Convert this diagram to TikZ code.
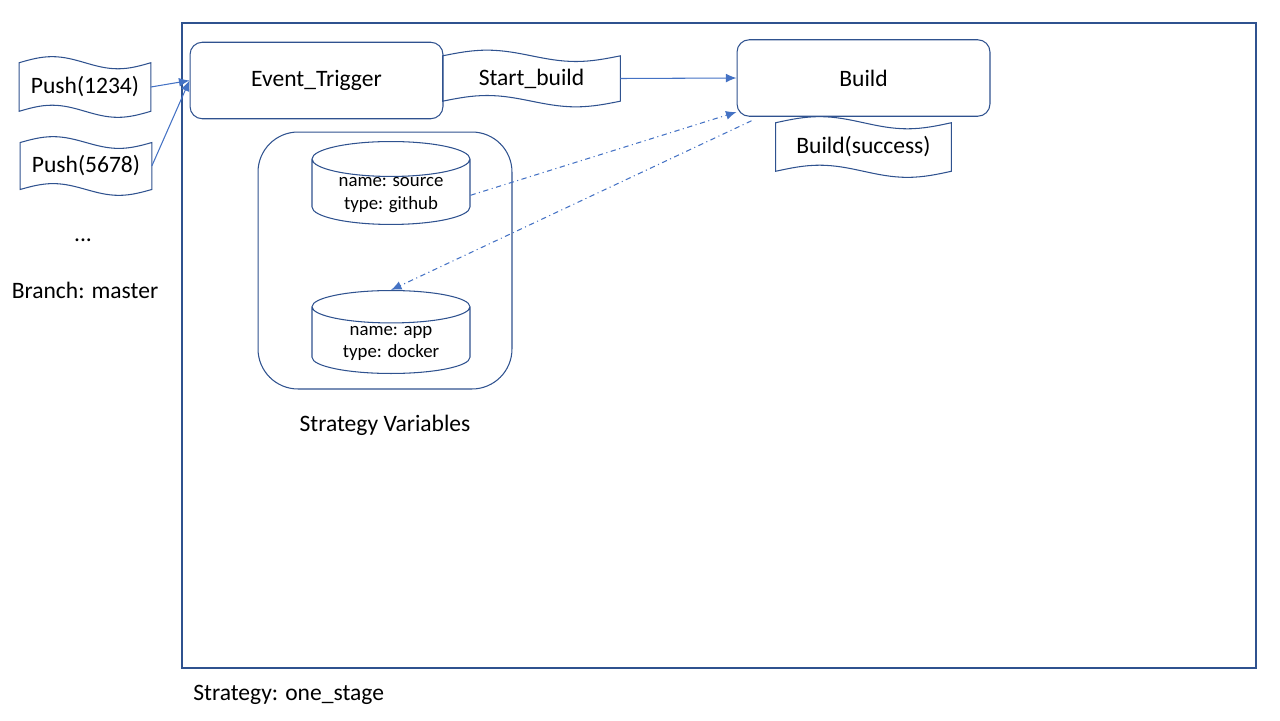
\documentclass[tikz,border=0pt]{standalone}
\usepackage{fontspec}
\setmainfont{Carlito}
\usetikzlibrary{calc, shapes.geometric, arrows.meta}

\definecolor{edgeblue}{RGB}{47,82,143}
\definecolor{linkblue}{RGB}{68,114,196}

% wavy tape outline round a node
\newcommand{\tapeline}[1]{%
  \draw[edgeblue, line width=0.6pt] let \p1=(#1.north west), \p2=(#1.south east),
    \n1={0.25*(\x2-\x1)}, \n2={0.1*(\y1-\y2)} in
    (\x1,{\y1-\n2}) sin ({\x1+\n1},\y1) cos ({\x1+2*\n1},{\y1-\n2})
    sin ({\x1+3*\n1},{\y1-2*\n2}) cos (\x2,{\y1-\n2})
    -- (\x2,{\y2+\n2}) sin ({\x2-\n1},\y2) cos ({\x2-2*\n1},{\y2+\n2})
    sin ({\x1+\n1},{\y2+2*\n2}) cos (\x1,{\y2+\n2}) -- cycle;}

\begin{document}
\begin{tikzpicture}[x=0.02cm, y=-0.02cm, font=\fontsize{13.4}{16}\selectfont]
\tikzset{>={Latex[length=6pt,width=5pt]}}
\tikzset{
  stepbox/.style={draw=edgeblue, line width=0.6pt, rounded corners=7pt,
    minimum width=5.06cm, minimum height=1.53cm},
  tapebox/.style={inner sep=0pt},
  store/.style={cylinder, shape border rotate=90, draw=edgeblue, line width=0.6pt,
    aspect=0.3, align=center, minimum width=3.16cm, anchor=north,
    font=\fontsize{10.7}{12.8}\selectfont},
  link/.style={linkblue, line width=0.6pt, ->},
  hint/.style={linkblue, line width=0.6pt, dash dot, ->}
}
  \useasboundingbox (0,0) rectangle (1280,720);

  \draw[edgeblue, line width=0.6pt] (182,23) rectangle (1256,668);
  \node[anchor=west, inner sep=0pt] (stage) at (193,695) {Strategy: one\_stage};

  % incoming pushes
  \node[tapebox, minimum width=2.62cm, minimum height=1.2cm] (push1) at (85,87) {Push(1234)};
  \node[tapebox, minimum width=2.62cm, minimum height=1.16cm] (push2) at (86,166) {Push(5678)};
  \tapeline{push1}
  \tapeline{push2}
  \node (dots) at (83,240) {...};
  \node (branch) at (85,290) {Branch: master};

  % stages
  \node[stepbox] (trigger) at (316.5,80.5) {Event\_Trigger};
  \node[tapebox, minimum width=3.54cm, minimum height=1.12cm] (start) at (531.5,78.5) {Start\_build};
  \node[stepbox] (build) at (863.5,78) {Build};
  \node[tapebox, minimum width=3.5cm, minimum height=1.2cm] (result) at (863.5,147) {Build(success)};
  \tapeline{start}
  \tapeline{result}

  % variables
  \node[draw=edgeblue, line width=0.6pt, rounded corners=0.8cm,
    minimum width=5.08cm, minimum height=5.14cm] (vars) at (385,260.5) {};
  \node[store, inner ysep=0.5pt] (source) at (391,141) {name: source\\type: github};
  \node[store, inner ysep=1.5pt] (app) at (391,290) {name: app\\type: docker};
  \node (varlabel) at (385,425) {Strategy Variables};

  \coordinate (buildin) at (build.195);
  \coordinate (buildout) at ($(build.south west)+(15,4)$);

  \draw[link] (push1.east) -- (trigger.west);
  \draw[link] (push2.east) -- (trigger.west);
  \draw[link] (start.east) -- (build.west);
  \draw[hint] (source.east) -- (buildin);
  \draw[hint] (buildout) -- (app.north);
\end{tikzpicture}
\end{document}
